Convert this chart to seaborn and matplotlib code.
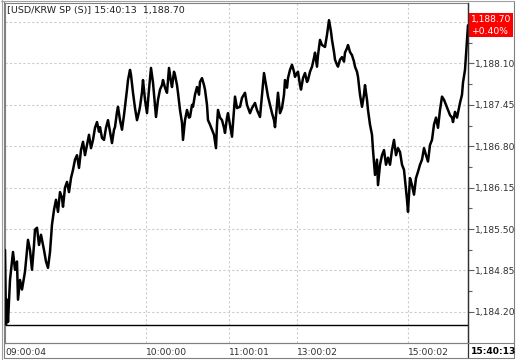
import matplotlib
matplotlib.use("Agg")
import matplotlib.pyplot as plt
import matplotlib.transforms as mtransforms
from matplotlib.patches import Rectangle
from matplotlib.lines import Line2D
import seaborn as sns
import pandas as pd

# ---- data ----
seq = [0,1,2,3,5,7,8,10,12,13,
       15,17,20,22,23,25,27,29,30,32,
       34,36,39,41,43,45,47,49,51,53,
       55,57,58,60,62,64,66,68,70,72,
       74,76,78,80,82,84,86,88,90,92,
       94,95,97,99,101,103,105,107,109,110,
       112,113,115,117,119,120,122,123,125,126,
       128,130,132,134,135,137,138,140,142,144,
       146,148,150,151,153,155,157,158,160,162,
       164,166,167,169,170,172,173,175,177,178,
       180,182,184,185,187,188,190,192,194,195,
       197,199,200,202,203,205,207,209,211,212,
       213,215,217,219,220,222,223,225,227,229,
       230,232,235,237,240,242,245,247,250,252,
       255,257,259,261,263,265,267,269,270,272,
       273,275,277,279,280,282,283,285,287,289,
       290,292,293,295,296,298,300,302,303,305,
       307,309,310,312,313,315,317,320,322,324,
       326,327,329,330,332,333,335,337,339,340,
       342,343,345,347,349,350,352,353,355,357,
       359,360,362,363,365,367,368,370,372,373,
       375,377,379,381,383,385,387,389,391,393,
       395,397,399,401,402,403,405,407,409,411,
       413,415,417,419,421,423,425,427,429,431,
       433,435,437,439,441,443,445,447,448,450,
       452,454,455,457,458,460,461,462,463]

price = [1185.17,1184.00,1184.39,1184.04,1184.70,1184.99,1185.14,1184.86,1184.99,1184.39,
         1184.70,1184.55,1184.83,1185.17,1185.33,1185.17,1184.86,1185.25,1185.49,1185.52,
         1185.25,1185.41,1185.17,1184.99,1184.89,1185.14,1185.57,1185.80,1185.96,1185.77,
         1186.08,1185.99,1185.85,1186.15,1186.24,1186.08,1186.30,1186.43,1186.59,1186.66,
         1186.46,1186.74,1186.87,1186.66,1186.82,1186.98,1186.77,1186.90,1187.09,1187.18,
         1187.03,1187.10,1186.93,1186.90,1187.09,1187.21,1187.03,1186.85,1187.06,1187.10,
         1187.34,1187.42,1187.21,1187.06,1187.29,1187.42,1187.69,1187.84,1188.00,1187.92,
         1187.64,1187.40,1187.21,1187.34,1187.42,1187.65,1187.84,1187.53,1187.32,1187.69,
         1188.03,1187.80,1187.45,1187.26,1187.53,1187.69,1187.76,1187.84,1187.72,1187.64,
         1188.03,1187.81,1187.73,1187.97,1187.92,1187.76,1187.64,1187.37,1187.17,1186.90,
         1187.21,1187.37,1187.25,1187.26,1187.45,1187.42,1187.61,1187.73,1187.61,1187.81,
         1187.87,1187.76,1187.69,1187.45,1187.21,1187.14,1187.06,1186.98,1186.77,1187.14,
         1187.37,1187.25,1187.21,1187.09,1187.01,1187.25,1187.32,1187.14,1186.95,1187.37,
         1187.58,1187.40,1187.42,1187.56,1187.64,1187.45,1187.32,1187.40,1187.48,1187.37,
         1187.26,1187.61,1187.95,1187.76,1187.58,1187.45,1187.32,1187.21,1187.10,1187.45,
         1187.64,1187.32,1187.40,1187.61,1187.84,1187.72,1187.87,1188.00,1188.08,1187.97,
         1187.89,1187.95,1187.97,1187.76,1187.69,1187.87,1187.95,1187.81,1187.84,1187.97,
         1188.05,1188.19,1188.27,1188.05,1188.23,1188.47,1188.39,1188.36,1188.55,1188.78,
         1188.60,1188.47,1188.28,1188.16,1188.08,1188.05,1188.16,1188.20,1188.13,1188.27,
         1188.34,1188.39,1188.28,1188.23,1188.13,1188.05,1187.97,1187.89,1187.61,1187.42,
         1187.61,1187.76,1187.53,1187.37,1187.14,1186.98,1186.74,1186.35,1186.59,1186.19,
         1186.51,1186.66,1186.74,1186.51,1186.62,1186.51,1186.74,1186.90,1186.66,1186.77,
         1186.71,1186.51,1186.43,1186.12,1185.96,1185.77,1186.30,1186.19,1186.04,1186.30,
         1186.40,1186.51,1186.59,1186.77,1186.66,1186.56,1186.82,1186.90,1187.14,1187.25,
         1187.09,1187.37,1187.58,1187.53,1187.45,1187.37,1187.29,1187.25,1187.18,1187.34,
         1187.25,1187.40,1187.48,1187.61,1187.80,1188.00,1188.23,1188.47,1188.70]

prev_close = 1184.00
last_price = 1188.70
change_text = "+0.40%"
title_text = "[USD/KRW SP (S)] 15:40:13  1,188.70"
xtick_pos = [0, 141, 224, 292, 403]
xtick_labels = ["09:00:04", "10:00:00", "11:00:01", "13:00:02", "15:00:02"]
end_label = "15:40:13"
ytick_vals = [1184.20, 1184.85, 1185.50, 1186.15, 1186.80, 1187.45, 1188.10, 1188.75]

# ---- figure ----
sns.set_style("white")
plt.rcParams['font.family'] = ['DejaVu Sans']

W, H = 517, 360
fig = plt.figure(figsize=(W / 100, H / 100), dpi=100)
fig.patch.set_facecolor("white")
ax = fig.add_axes([5 / W, (H - 343) / H, 463 / W, 340 / H])

df = pd.DataFrame({"seq": seq, "price": price})
sns.lineplot(data=df, x="seq", y="price", color="black", linewidth=1.8,
             sort=False, estimator=None, ax=ax, zorder=3)

ax.axhline(prev_close, color="black", linewidth=1.0, zorder=2)

ax.set_xlim(0, seq[-1])
ax.set_ylim(1183.71, 1189.05)
ax.set_xlabel("")
ax.set_ylabel("")

# y axis on the right
ax.yaxis.tick_right()
ax.set_yticks(ytick_vals)
ax.set_yticklabels([f"{v:,.2f}" for v in ytick_vals[:-1]] + [""])
minor = [(a + b) / 2 for a, b in zip(ytick_vals[:-1], ytick_vals[1:])]
ax.set_yticks(minor, minor=True)
ax.tick_params(axis="y", which="major", direction="out", length=4, width=0.8,
               color="#606060", labelsize=6.6, labelcolor="#303030", pad=1,
               left=False, right=True)
ax.tick_params(axis="y", which="minor", direction="out", length=3, width=0.8,
               color="#606060", left=False, right=True)

# x axis labels
ax.set_xticks(xtick_pos)
ax.set_xticklabels(xtick_labels)
for lbl in ax.get_xticklabels():
    lbl.set_horizontalalignment("left")
ax.tick_params(axis="x", length=0, labelsize=6.6, labelcolor="#303030", pad=3.5)

ax.grid(True, which="major", axis="both", color="#cccccc", linestyle=(0, (2, 2)),
        linewidth=0.8, zorder=0)

for side in ["left", "top", "bottom"]:
    ax.spines[side].set_color("#808080")
    ax.spines[side].set_linewidth(0.8)
ax.spines["right"].set_color("#303030")
ax.spines["right"].set_linewidth(0.9)

# last price box
trans = mtransforms.blended_transform_factory(ax.transAxes, ax.transData)
ax.add_patch(Rectangle((1.002, last_price - 0.19), 0.095, 0.38, transform=trans,
                       clip_on=False, facecolor="#ff0000", edgecolor="none", zorder=6))
ax.text(1.0495, last_price + 0.085, f"{last_price:,.2f}", transform=trans,
        ha="center", va="center", color="white", fontsize=6.6, zorder=7, clip_on=False)
ax.text(1.0495, last_price - 0.105, change_text, transform=trans,
        ha="center", va="center", color="white", fontsize=6.6, zorder=7, clip_on=False)

# title
ax.text(0.004, 0.99, title_text, transform=ax.transAxes, ha="left", va="top",
        fontsize=6.8, color="#202020", zorder=5)

# end time label
fig.text(471 / W, 1 - 352 / H, end_label, ha="left", va="center",
         fontsize=6.6, fontweight="bold", color="black")

# frame lines
def fline(x0, y0, x1, y1, color, lw):
    fig.add_artist(Line2D([x0 / W, x1 / W], [1 - y0 / H, 1 - y1 / H],
                          color=color, linewidth=lw, transform=fig.transFigure))

fline(468, 3, 468, 358, "#303030", 0.9)   # right axis line through band
fline(5, 343, 514, 343, "#808080", 0.8)   # band top
fline(1.5, 0, 1.5, 360, "#a0a0a0", 0.8)   # outer left
fline(4, 1, 4, 358, "#808080", 0.8)
fline(514, 1, 514, 358, "#808080", 0.8)   # outer right
fline(1, 1, 514, 1, "#a0a0a0", 0.8)       # top
fline(4, 358, 514, 358, "#808080", 0.8)   # bottom

fig.savefig("out.png", dpi=100, facecolor="white")
